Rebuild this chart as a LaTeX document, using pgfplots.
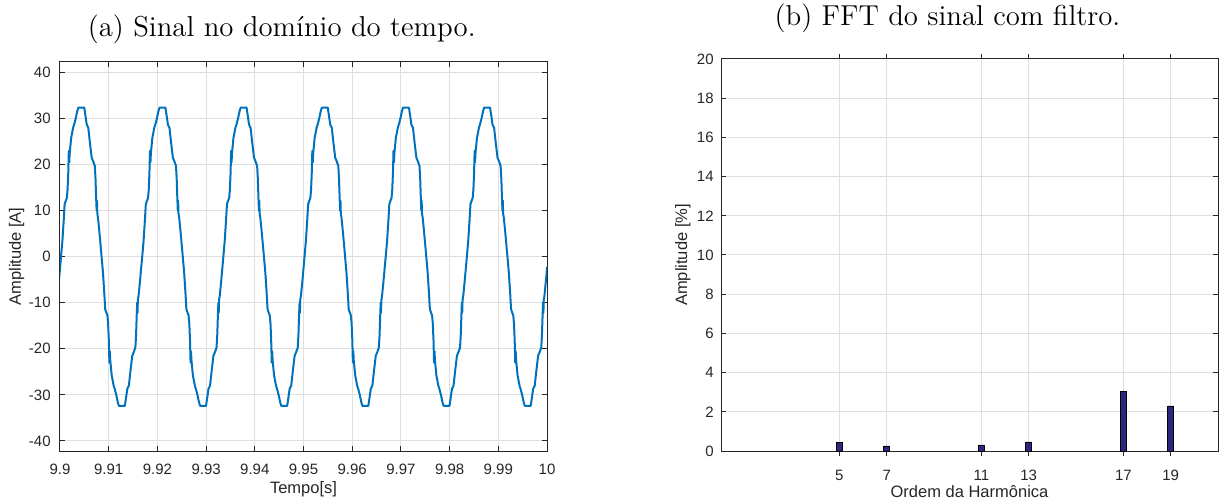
\documentclass[border=0pt]{standalone}
\usepackage{fontspec}
\newfontfamily\hv{Liberation Sans}
\usepackage{pgfplots}
\pgfplotsset{compat=1.18}
\definecolor{mline}{RGB}{0,114,189}
\definecolor{mbar}{RGB}{46,37,127}
\definecolor{mgrid}{RGB}{223,223,223}
\definecolor{maxis}{RGB}{38,38,38}
\pgfplotsset{mstyle/.style={scale only axis, axis line style={maxis, line width=0.5pt},
  tick style={maxis, line width=0.5pt}, major tick length=2.5pt, tick align=inside, tick pos=both,
  grid=major, major grid style={mgrid, line width=0.5pt},
  /pgf/number format/assume math mode=true,
  tick label style={font=\hv\fontsize{7.5}{9}\selectfont, text=maxis, inner sep=0pt},
  label style={font=\hv\fontsize{8.25}{10}\selectfont, text=maxis, inner sep=0pt},
  clip=true}}
\begin{document}
\begin{tikzpicture}
\useasboundingbox (0,0) rectangle (609.5pt,251.5pt);
\node[anchor=base, font=\fontsize{14.4}{17}\selectfont] at (140.85pt,233.25pt) {(a) Sinal no domínio do tempo.};
\node[anchor=base, font=\fontsize{14.4}{17}\selectfont] at (473.75pt,238.75pt) {(b) FFT do sinal com filtro.};
\begin{axis}[mstyle, at={(30pt,26pt)}, anchor=south west, width=243.5pt, height=194.5pt,
  xmin=9.9, xmax=10, ymin=-42.2, ymax=42.3,
  xtick={9.9,9.91,9.92,9.93,9.94,9.95,9.96,9.97,9.98,9.99,10},
  xticklabels={9.9,9.91,9.92,9.93,9.94,9.95,9.96,9.97,9.98,9.99,10},
  ytick={-40,-30,-20,-10,0,10,20,30,40},
  yticklabels={-40,-30,-20,-10,0,10,20,30,40},
  xticklabel style={anchor=base, yshift=-11.5pt},
  yticklabel style={anchor=east, xshift=-4.5pt},
  xlabel={Tempo[s]}, ylabel={Amplitude [A]},
  xlabel style={at={(axis description cs:0.5,0)}, anchor=base, yshift=-21pt},
  ylabel style={at={(axis description cs:0,0.5)}, anchor=base, yshift=19.5pt}]
\addplot[mline, line width=1pt, line join=round] coordinates {
(9.89975,-5.5) (9.90003,-2.2)
(9.90021,0) (9.90049,3.4) (9.90077,8.0) (9.90095,11.4) (9.90114,12.0) (9.90141,12.8) (9.90155,14.5) (9.90169,18.0) (9.90181,23.0) (9.90190,20.5) (9.90199,22.5) (9.90229,25.8) (9.90271,28.1) (9.90290,28.7) (9.90322,30.0) (9.90354,31.6) (9.90377,32.4) (9.90498,32.4) (9.90526,30.4) (9.90549,28.7) (9.90581,28.0) (9.90614,24.8) (9.90651,21.5) (9.90683,20.7) (9.90715,19.7) (9.90729,17.0) (9.90743,12.5) (9.90752,10.0) (9.90759,12.2) (9.90766,9.4) (9.90780,8.5) (9.90808,5.5) (9.90836,2.2)
(9.90854,0) (9.90882,-3.4) (9.90910,-8.0) (9.90928,-11.4) (9.90947,-12.0) (9.90974,-12.8) (9.90988,-14.5) (9.91002,-18.0) (9.91014,-23.0) (9.91023,-20.5) (9.91032,-22.5) (9.91062,-25.8) (9.91104,-28.1) (9.91123,-28.7) (9.91155,-30.0) (9.91187,-31.6) (9.91210,-32.4) (9.91331,-32.4) (9.91359,-30.4) (9.91382,-28.7) (9.91414,-28.0) (9.91447,-24.8) (9.91484,-21.5) (9.91516,-20.7) (9.91548,-19.7) (9.91562,-17.0) (9.91576,-12.5) (9.91585,-10.0) (9.91592,-12.2) (9.91599,-9.4) (9.91613,-8.5) (9.91641,-5.5) (9.91669,-2.2)
(9.91688,0) (9.91716,3.4) (9.91744,8.0) (9.91762,11.4) (9.91781,12.0) (9.91808,12.8) (9.91822,14.5) (9.91836,18.0) (9.91848,23.0) (9.91857,20.5) (9.91866,22.5) (9.91896,25.8) (9.91938,28.1) (9.91957,28.7) (9.91989,30.0) (9.92021,31.6) (9.92044,32.4) (9.92165,32.4) (9.92193,30.4) (9.92216,28.7) (9.92248,28.0) (9.92281,24.8) (9.92318,21.5) (9.92350,20.7) (9.92382,19.7) (9.92396,17.0) (9.92410,12.5) (9.92419,10.0) (9.92426,12.2) (9.92433,9.4) (9.92447,8.5) (9.92475,5.5) (9.92503,2.2)
(9.92521,0) (9.92549,-3.4) (9.92577,-8.0) (9.92595,-11.4) (9.92614,-12.0) (9.92641,-12.8) (9.92655,-14.5) (9.92669,-18.0) (9.92681,-23.0) (9.92690,-20.5) (9.92699,-22.5) (9.92729,-25.8) (9.92771,-28.1) (9.92790,-28.7) (9.92822,-30.0) (9.92854,-31.6) (9.92877,-32.4) (9.92998,-32.4) (9.93026,-30.4) (9.93049,-28.7) (9.93081,-28.0) (9.93114,-24.8) (9.93151,-21.5) (9.93183,-20.7) (9.93215,-19.7) (9.93229,-17.0) (9.93243,-12.5) (9.93252,-10.0) (9.93259,-12.2) (9.93266,-9.4) (9.93280,-8.5) (9.93308,-5.5) (9.93336,-2.2)
(9.93354,0) (9.93382,3.4) (9.93410,8.0) (9.93428,11.4) (9.93447,12.0) (9.93474,12.8) (9.93488,14.5) (9.93502,18.0) (9.93514,23.0) (9.93523,20.5) (9.93532,22.5) (9.93562,25.8) (9.93604,28.1) (9.93623,28.7) (9.93655,30.0) (9.93687,31.6) (9.93710,32.4) (9.93831,32.4) (9.93859,30.4) (9.93882,28.7) (9.93914,28.0) (9.93947,24.8) (9.93984,21.5) (9.94016,20.7) (9.94048,19.7) (9.94062,17.0) (9.94076,12.5) (9.94085,10.0) (9.94092,12.2) (9.94099,9.4) (9.94113,8.5) (9.94141,5.5) (9.94169,2.2)
(9.94188,0) (9.94216,-3.4) (9.94244,-8.0) (9.94262,-11.4) (9.94281,-12.0) (9.94308,-12.8) (9.94322,-14.5) (9.94336,-18.0) (9.94348,-23.0) (9.94357,-20.5) (9.94366,-22.5) (9.94396,-25.8) (9.94438,-28.1) (9.94457,-28.7) (9.94489,-30.0) (9.94521,-31.6) (9.94544,-32.4) (9.94665,-32.4) (9.94693,-30.4) (9.94716,-28.7) (9.94748,-28.0) (9.94781,-24.8) (9.94818,-21.5) (9.94850,-20.7) (9.94882,-19.7) (9.94896,-17.0) (9.94910,-12.5) (9.94919,-10.0) (9.94926,-12.2) (9.94933,-9.4) (9.94947,-8.5) (9.94975,-5.5) (9.95003,-2.2)
(9.95021,0) (9.95049,3.4) (9.95077,8.0) (9.95095,11.4) (9.95114,12.0) (9.95141,12.8) (9.95155,14.5) (9.95169,18.0) (9.95181,23.0) (9.95190,20.5) (9.95199,22.5) (9.95229,25.8) (9.95271,28.1) (9.95290,28.7) (9.95322,30.0) (9.95354,31.6) (9.95377,32.4) (9.95498,32.4) (9.95526,30.4) (9.95549,28.7) (9.95581,28.0) (9.95614,24.8) (9.95651,21.5) (9.95683,20.7) (9.95715,19.7) (9.95729,17.0) (9.95743,12.5) (9.95752,10.0) (9.95759,12.2) (9.95766,9.4) (9.95780,8.5) (9.95808,5.5) (9.95836,2.2)
(9.95854,0) (9.95882,-3.4) (9.95910,-8.0) (9.95928,-11.4) (9.95947,-12.0) (9.95974,-12.8) (9.95988,-14.5) (9.96002,-18.0) (9.96014,-23.0) (9.96023,-20.5) (9.96032,-22.5) (9.96062,-25.8) (9.96104,-28.1) (9.96123,-28.7) (9.96155,-30.0) (9.96187,-31.6) (9.96210,-32.4) (9.96331,-32.4) (9.96359,-30.4) (9.96382,-28.7) (9.96414,-28.0) (9.96447,-24.8) (9.96484,-21.5) (9.96516,-20.7) (9.96548,-19.7) (9.96562,-17.0) (9.96576,-12.5) (9.96585,-10.0) (9.96592,-12.2) (9.96599,-9.4) (9.96613,-8.5) (9.96641,-5.5) (9.96669,-2.2)
(9.96688,0) (9.96716,3.4) (9.96744,8.0) (9.96762,11.4) (9.96781,12.0) (9.96808,12.8) (9.96822,14.5) (9.96836,18.0) (9.96848,23.0) (9.96857,20.5) (9.96866,22.5) (9.96896,25.8) (9.96938,28.1) (9.96957,28.7) (9.96989,30.0) (9.97021,31.6) (9.97044,32.4) (9.97165,32.4) (9.97193,30.4) (9.97216,28.7) (9.97248,28.0) (9.97281,24.8) (9.97318,21.5) (9.97350,20.7) (9.97382,19.7) (9.97396,17.0) (9.97410,12.5) (9.97419,10.0) (9.97426,12.2) (9.97433,9.4) (9.97447,8.5) (9.97475,5.5) (9.97503,2.2)
(9.97521,0) (9.97549,-3.4) (9.97577,-8.0) (9.97595,-11.4) (9.97614,-12.0) (9.97641,-12.8) (9.97655,-14.5) (9.97669,-18.0) (9.97681,-23.0) (9.97690,-20.5) (9.97699,-22.5) (9.97729,-25.8) (9.97771,-28.1) (9.97790,-28.7) (9.97822,-30.0) (9.97854,-31.6) (9.97877,-32.4) (9.97998,-32.4) (9.98026,-30.4) (9.98049,-28.7) (9.98081,-28.0) (9.98114,-24.8) (9.98151,-21.5) (9.98183,-20.7) (9.98215,-19.7) (9.98229,-17.0) (9.98243,-12.5) (9.98252,-10.0) (9.98259,-12.2) (9.98266,-9.4) (9.98280,-8.5) (9.98308,-5.5) (9.98336,-2.2)
(9.98354,0) (9.98382,3.4) (9.98410,8.0) (9.98428,11.4) (9.98447,12.0) (9.98474,12.8) (9.98488,14.5) (9.98502,18.0) (9.98514,23.0) (9.98523,20.5) (9.98532,22.5) (9.98562,25.8) (9.98604,28.1) (9.98623,28.7) (9.98655,30.0) (9.98687,31.6) (9.98710,32.4) (9.98831,32.4) (9.98859,30.4) (9.98882,28.7) (9.98914,28.0) (9.98947,24.8) (9.98984,21.5) (9.99016,20.7) (9.99048,19.7) (9.99062,17.0) (9.99076,12.5) (9.99085,10.0) (9.99092,12.2) (9.99099,9.4) (9.99113,8.5) (9.99141,5.5) (9.99169,2.2)
(9.99188,0) (9.99216,-3.4) (9.99244,-8.0) (9.99262,-11.4) (9.99281,-12.0) (9.99308,-12.8) (9.99322,-14.5) (9.99336,-18.0) (9.99348,-23.0) (9.99357,-20.5) (9.99366,-22.5) (9.99396,-25.8) (9.99438,-28.1) (9.99457,-28.7) (9.99489,-30.0) (9.99521,-31.6) (9.99544,-32.4) (9.99665,-32.4) (9.99693,-30.4) (9.99716,-28.7) (9.99748,-28.0) (9.99781,-24.8) (9.99818,-21.5) (9.99850,-20.7) (9.99882,-19.7) (9.99896,-17.0) (9.99910,-12.5) (9.99919,-10.0) (9.99926,-12.2) (9.99933,-9.4) (9.99947,-8.5) (9.99975,-5.5) (10.00003,-2.2)
};
\end{axis}
\begin{axis}[mstyle, at={(360.5pt,26pt)}, anchor=south west, width=248.5pt, height=196pt,
  xmin=0, xmax=21, ymin=0, ymax=20,
  xtick={5,7,11,13,17,19}, ytick={0,2,4,6,8,10,12,14,16,18,20},
  xticklabel style={anchor=base, yshift=-12pt},
  yticklabel style={anchor=east, xshift=-3.5pt},
  xlabel={Ordem da Harmônica}, ylabel={Amplitude [\%]},
  xlabel style={at={(axis description cs:0.5,0)}, anchor=base, yshift=-23.3pt},
  ylabel style={at={(axis description cs:0,0.5)}, anchor=base, yshift=17pt},
  ybar, bar width=0.24]
\addplot[fill=mbar, draw=black, line width=0.4pt] coordinates {(5,0.44) (7,0.26) (11,0.31) (13,0.46) (17,3.06) (19,2.3)};
\end{axis}
\end{tikzpicture}
\end{document}
